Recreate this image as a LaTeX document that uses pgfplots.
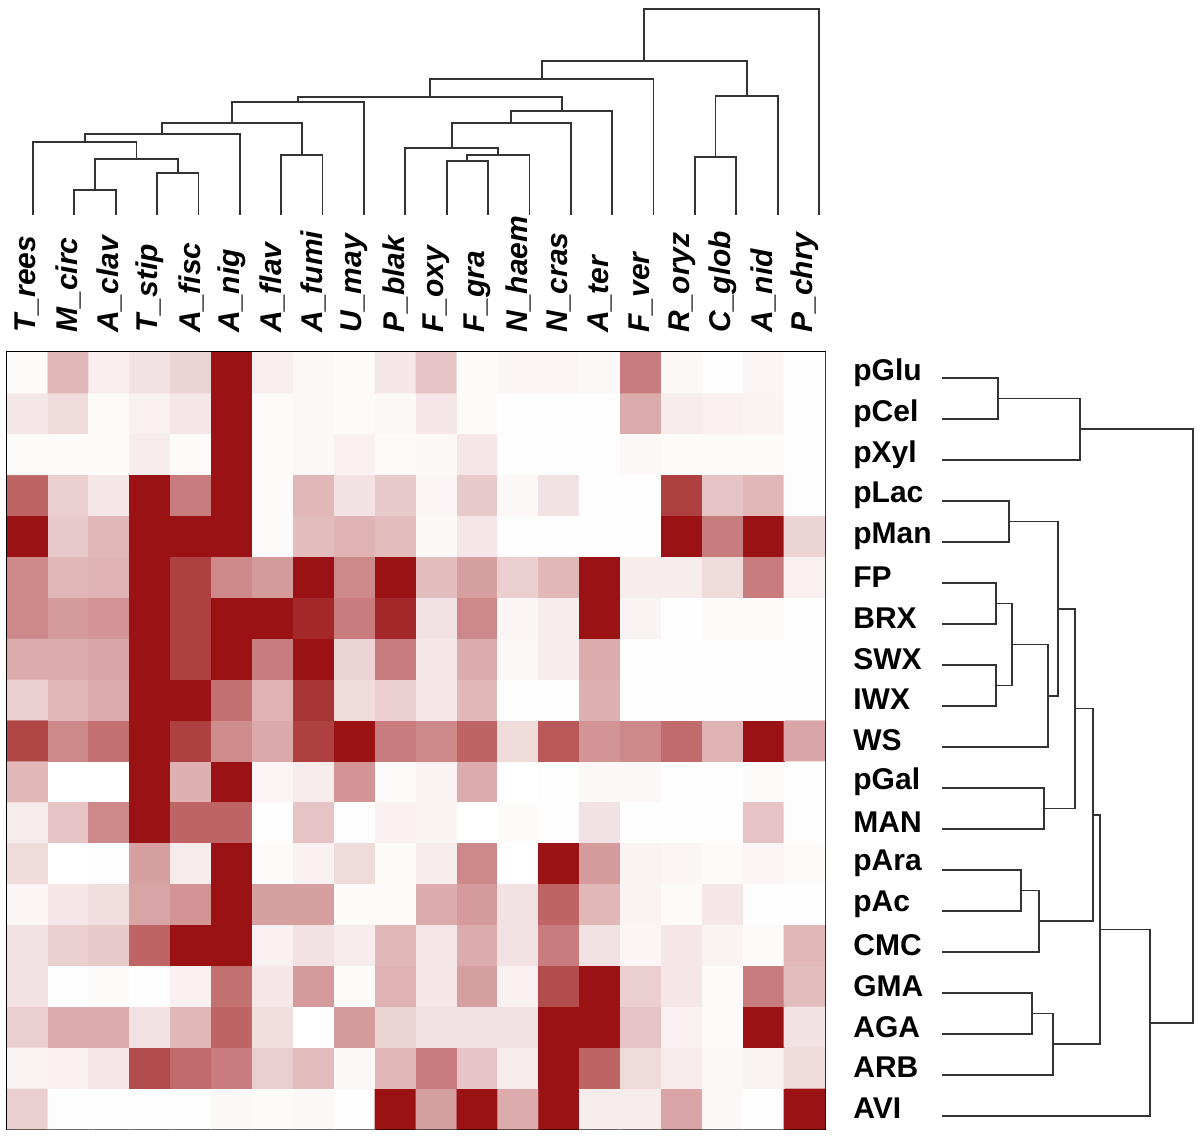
\documentclass[border=0pt]{standalone}
\usepackage{pgfplots}
\pgfplotsset{compat=1.18}
\usepackage{fontspec}
\setmainfont{Liberation Sans}
\begin{document}
\begin{tikzpicture}
\useasboundingbox (0,0) rectangle (600pt,-570pt);
\pgfplotsset{dendro/.style={draw=black!80, line width=0.9pt, mark=none}}
% heatmap
\begin{axis}[
  at={(3.5pt,-564.5pt)}, anchor=south west,
  scale only axis, width=409pt, height=388.5pt,
  xmin=-0.5, xmax=19.5, ymin=-0.5, ymax=18.5,
  colormap={wr}{rgb255=(255,255,255) rgb255=(155,18,20)},
  point meta min=0, point meta max=1,
  axis line style={black, line width=0.7pt},
  tick style={draw=none},
  xtick={0,...,19}, ytick={0,...,18},
  xticklabel pos=upper, yticklabel pos=right,
  xticklabels={T\_rees,M\_circ,A\_clav,T\_stip,A\_fisc,A\_nig,A\_flav,A\_fumi,U\_may,P\_blak,F\_oxy,F\_gra,N\_haem,N\_cras,A\_ter,F\_ver,R\_oryz,C\_glob,A\_nid,P\_chry},
  yticklabels={AVI,ARB,AGA,GMA,CMC,pAc,pAra,MAN,pGal,WS,IWX,SWX,BRX,FP,pMan,pLac,pXyl,pCel,pGlu},
  xticklabel style={rotate=90, anchor=west, inner sep=0pt, font=\fontsize{15}{18}\selectfont\bfseries\itshape},
  yticklabel style={anchor=west, inner sep=0pt, font=\fontsize{15}{18}\selectfont\bfseries},
  xticklabel shift=9.5pt, yticklabel shift=14pt,
]
\addplot[matrix plot*, mesh/cols=20, point meta=explicit, shader=flat corner] coordinates {
(0,0)[0.2] (1,0)[0.01] (2,0)[0.01] (3,0)[0.01] (4,0)[0.01] (5,0)[0.03] (6,0)[0.02] (7,0)[0.03] (8,0)[0.01] (9,0)[1] (10,0)[0.4] (11,0)[1] (12,0)[0.35] (13,0)[1] (14,0)[0.08] (15,0)[0.08] (16,0)[0.38] (17,0)[0.03] (18,0)[0.01] (19,0)[1]

(0,1)[0.05] (1,1)[0.06] (2,1)[0.1] (3,1)[0.75] (4,1)[0.62] (5,1)[0.55] (6,1)[0.2] (7,1)[0.28] (8,1)[0.03] (9,1)[0.3] (10,1)[0.55] (11,1)[0.25] (12,1)[0.08] (13,1)[1] (14,1)[0.65] (15,1)[0.15] (16,1)[0.08] (17,1)[0.03] (18,1)[0.05] (19,1)[0.15]

(0,2)[0.2] (1,2)[0.35] (2,2)[0.35] (3,2)[0.12] (4,2)[0.3] (5,2)[0.65] (6,2)[0.14] (7,2)[0] (8,2)[0.42] (9,2)[0.18] (10,2)[0.12] (11,2)[0.12] (12,2)[0.12] (13,2)[1] (14,2)[1] (15,2)[0.25] (16,2)[0.06] (17,2)[0.02] (18,2)[1] (19,2)[0.12]

(0,3)[0.12] (1,3)[0.01] (2,3)[0.02] (3,3)[0.01] (4,3)[0.06] (5,3)[0.6] (6,3)[0.1] (7,3)[0.42] (8,3)[0.02] (9,3)[0.32] (10,3)[0.1] (11,3)[0.4] (12,3)[0.06] (13,3)[0.75] (14,3)[1] (15,3)[0.2] (16,3)[0.1] (17,3)[0.02] (18,3)[0.55] (19,3)[0.28]

(0,4)[0.12] (1,4)[0.2] (2,4)[0.22] (3,4)[0.65] (4,4)[1] (5,4)[1] (6,4)[0.06] (7,4)[0.12] (8,4)[0.08] (9,4)[0.3] (10,4)[0.1] (11,4)[0.35] (12,4)[0.12] (13,4)[0.55] (14,4)[0.12] (15,4)[0.04] (16,4)[0.1] (17,4)[0.05] (18,4)[0.02] (19,4)[0.3]

(0,5)[0.04] (1,5)[0.1] (2,5)[0.14] (3,5)[0.38] (4,5)[0.45] (5,5)[1] (6,5)[0.4] (7,5)[0.4] (8,5)[0.02] (9,5)[0.02] (10,5)[0.35] (11,5)[0.42] (12,5)[0.12] (13,5)[0.65] (14,5)[0.3] (15,5)[0.05] (16,5)[0.02] (17,5)[0.1] (18,5)[0.01] (19,5)[0.01]

(0,6)[0.15] (1,6)[0] (2,6)[0.01] (3,6)[0.4] (4,6)[0.08] (5,6)[1] (6,6)[0.02] (7,6)[0.06] (8,6)[0.15] (9,6)[0.02] (10,6)[0.08] (11,6)[0.5] (12,6)[0] (13,6)[1] (14,6)[0.42] (15,6)[0.05] (16,6)[0.04] (17,6)[0.02] (18,6)[0.04] (19,6)[0.02]

(0,7)[0.08] (1,7)[0.25] (2,7)[0.5] (3,7)[1] (4,7)[0.65] (5,7)[0.65] (6,7)[0.01] (7,7)[0.25] (8,7)[0.01] (9,7)[0.06] (10,7)[0.05] (11,7)[0] (12,7)[0.02] (13,7)[0.01] (14,7)[0.12] (15,7)[0.01] (16,7)[0.01] (17,7)[0.01] (18,7)[0.25] (19,7)[0.01]

(0,8)[0.3] (1,8)[0] (2,8)[0] (3,8)[1] (4,8)[0.33] (5,8)[1] (6,8)[0.04] (7,8)[0.08] (8,8)[0.45] (9,8)[0.02] (10,8)[0.05] (11,8)[0.35] (12,8)[0] (13,8)[0.01] (14,8)[0.03] (15,8)[0.03] (16,8)[0.01] (17,8)[0.01] (18,8)[0.02] (19,8)[0.01]

(0,9)[0.78] (1,9)[0.5] (2,9)[0.6] (3,9)[1] (4,9)[0.8] (5,9)[0.48] (6,9)[0.36] (7,9)[0.8] (8,9)[1] (9,9)[0.55] (10,9)[0.5] (11,9)[0.65] (12,9)[0.15] (13,9)[0.7] (14,9)[0.45] (15,9)[0.5] (16,9)[0.62] (17,9)[0.32] (18,9)[1] (19,9)[0.38]

(0,10)[0.2] (1,10)[0.3] (2,10)[0.35] (3,10)[1] (4,10)[1] (5,10)[0.6] (6,10)[0.32] (7,10)[0.85] (8,10)[0.15] (9,10)[0.2] (10,10)[0.1] (11,10)[0.3] (12,10)[0.01] (13,10)[0.01] (14,10)[0.33] (15,10)[0.01] (16,10)[0.01] (17,10)[0.01] (18,10)[0.01] (19,10)[0.01]

(0,11)[0.35] (1,11)[0.35] (2,11)[0.38] (3,11)[1] (4,11)[0.8] (5,11)[1] (6,11)[0.55] (7,11)[1] (8,11)[0.18] (9,11)[0.55] (10,11)[0.1] (11,11)[0.35] (12,11)[0.03] (13,11)[0.08] (14,11)[0.35] (15,11)[0.01] (16,11)[0.01] (17,11)[0.01] (18,11)[0.01] (19,11)[0.01]

(0,12)[0.5] (1,12)[0.42] (2,12)[0.45] (3,12)[1] (4,12)[0.8] (5,12)[1] (6,12)[1] (7,12)[0.9] (8,12)[0.55] (9,12)[0.9] (10,12)[0.12] (11,12)[0.5] (12,12)[0.04] (13,12)[0.08] (14,12)[1] (15,12)[0.05] (16,12)[0.01] (17,12)[0.02] (18,12)[0.02] (19,12)[0.01]

(0,13)[0.5] (1,13)[0.3] (2,13)[0.32] (3,13)[1] (4,13)[0.8] (5,13)[0.5] (6,13)[0.42] (7,13)[1] (8,13)[0.5] (9,13)[1] (10,13)[0.28] (11,13)[0.4] (12,13)[0.2] (13,13)[0.3] (14,13)[1] (15,13)[0.08] (16,13)[0.08] (17,13)[0.15] (18,13)[0.55] (19,13)[0.06]

(0,14)[1] (1,14)[0.22] (2,14)[0.3] (3,14)[1] (4,14)[1] (5,14)[1] (6,14)[0.02] (7,14)[0.28] (8,14)[0.32] (9,14)[0.28] (10,14)[0.03] (11,14)[0.1] (12,14)[0.01] (13,14)[0.01] (14,14)[0.01] (15,14)[0.01] (16,14)[1] (17,14)[0.55] (18,14)[1] (19,14)[0.18]

(0,15)[0.65] (1,15)[0.2] (2,15)[0.1] (3,15)[1] (4,15)[0.55] (5,15)[1] (6,15)[0.02] (7,15)[0.3] (8,15)[0.12] (9,15)[0.22] (10,15)[0.04] (11,15)[0.22] (12,15)[0.03] (13,15)[0.12] (14,15)[0.01] (15,15)[0.01] (16,15)[0.8] (17,15)[0.25] (18,15)[0.3] (19,15)[0.01]

(0,16)[0.02] (1,16)[0.02] (2,16)[0.02] (3,16)[0.08] (4,16)[0.02] (5,16)[1] (6,16)[0.02] (7,16)[0.03] (8,16)[0.06] (9,16)[0.02] (10,16)[0.03] (11,16)[0.1] (12,16)[0.01] (13,16)[0.01] (14,16)[0.01] (15,16)[0.03] (16,16)[0.02] (17,16)[0.02] (18,16)[0.02] (19,16)[0.01]

(0,17)[0.1] (1,17)[0.15] (2,17)[0.02] (3,17)[0.06] (4,17)[0.1] (5,17)[1] (6,17)[0.02] (7,17)[0.03] (8,17)[0.02] (9,17)[0.03] (10,17)[0.1] (11,17)[0.02] (12,17)[0.01] (13,17)[0.01] (14,17)[0.01] (15,17)[0.35] (16,17)[0.08] (17,17)[0.06] (18,17)[0.05] (19,17)[0.01]

(0,18)[0.02] (1,18)[0.3] (2,18)[0.07] (3,18)[0.12] (4,18)[0.18] (5,18)[1] (6,18)[0.07] (7,18)[0.03] (8,18)[0.02] (9,18)[0.1] (10,18)[0.25] (11,18)[0.02] (12,18)[0.04] (13,18)[0.04] (14,18)[0.03] (15,18)[0.55] (16,18)[0.03] (17,18)[0.01] (18,18)[0.04] (19,18)[0.01]
};
\end{axis}
% top dendrogram
\begin{axis}[
  at={(16.5pt,-107.5pt)}, anchor=south west,
  scale only axis, width=393pt, height=103pt,
  xmin=0, xmax=19, ymin=0, ymax=206,
  axis lines=none, clip=false,
]
\addplot[dendro] coordinates {(1,0)(1,25)(2,25)(2,0)};
\addplot[dendro] coordinates {(3,0)(3,42)(4,42)(4,0)};
\addplot[dendro] coordinates {(1.5,25)(1.5,56)(3.5,56)(3.5,42)};
\addplot[dendro] coordinates {(0,0)(0,73)(2.5,73)(2.5,56)};
\addplot[dendro] coordinates {(1.25,73)(1.25,81)(5,81)(5,0)};
\addplot[dendro] coordinates {(6,0)(6,60)(7,60)(7,0)};
\addplot[dendro] coordinates {(3.125,81)(3.125,92)(6.5,92)(6.5,60)};
\addplot[dendro] coordinates {(4.8125,92)(4.8125,113)(8,113)(8,0)};
\addplot[dendro] coordinates {(10,0)(10,54)(11,54)(11,0)};
\addplot[dendro] coordinates {(10.5,54)(10.5,60)(12,60)(12,0)};
\addplot[dendro] coordinates {(9,0)(9,67)(11.25,67)(11.25,60)};
\addplot[dendro] coordinates {(10.125,67)(10.125,92)(13,92)(13,0)};
\addplot[dendro] coordinates {(11.5625,92)(11.5625,104)(14,104)(14,0)};
\addplot[dendro] coordinates {(6.40625,113)(6.40625,118)(12.78125,118)(12.78125,104)};
\addplot[dendro] coordinates {(9.59375,118)(9.59375,136)(15,136)(15,0)};
\addplot[dendro] coordinates {(16,0)(16,58)(17,58)(17,0)};
\addplot[dendro] coordinates {(16.5,58)(16.5,119)(18,119)(18,0)};
\addplot[dendro] coordinates {(12.296875,136)(12.296875,154)(17.25,154)(17.25,119)};
\addplot[dendro] coordinates {(14.7734,154)(14.7734,206)(19,206)(19,0)};
\end{axis}
% right dendrogram
\begin{axis}[
  at={(471pt,-558pt)}, anchor=south west,
  scale only axis, width=125.5pt, height=369pt,
  xmin=0, xmax=251, ymin=0, ymax=18,
  axis lines=none, clip=false,
]
\addplot[dendro] coordinates {(0,18)(56,18)(56,17)(0,17)};
\addplot[dendro] coordinates {(56,17.5)(138,17.5)(138,16)(0,16)};
\addplot[dendro] coordinates {(0,15)(67,15)(67,14)(0,14)};
\addplot[dendro] coordinates {(0,13)(54,13)(54,12)(0,12)};
\addplot[dendro] coordinates {(0,11)(54,11)(54,10)(0,10)};
\addplot[dendro] coordinates {(54,12.5)(70,12.5)(70,10.5)(54,10.5)};
\addplot[dendro] coordinates {(70,11.5)(106,11.5)(106,9)(0,9)};
\addplot[dendro] coordinates {(67,14.5)(116,14.5)(116,10.25)(106,10.25)};
\addplot[dendro] coordinates {(0,8)(102,8)(102,7)(0,7)};
\addplot[dendro] coordinates {(116,12.375)(133,12.375)(133,7.5)(102,7.5)};
\addplot[dendro] coordinates {(0,6)(79,6)(79,5)(0,5)};
\addplot[dendro] coordinates {(79,5.5)(97,5.5)(97,4)(0,4)};
\addplot[dendro] coordinates {(133,9.9375)(151,9.9375)(151,4.75)(97,4.75)};
\addplot[dendro] coordinates {(0,3)(90,3)(90,2)(0,2)};
\addplot[dendro] coordinates {(90,2.5)(111,2.5)(111,1)(0,1)};
\addplot[dendro] coordinates {(151,7.34375)(158,7.34375)(158,1.75)(111,1.75)};
\addplot[dendro] coordinates {(158,4.546875)(208,4.546875)(208,0)(0,0)};
\addplot[dendro] coordinates {(138,16.75)(251,16.75)(251,2.2734)(208,2.2734)};
\end{axis}
\end{tikzpicture}
\end{document}
